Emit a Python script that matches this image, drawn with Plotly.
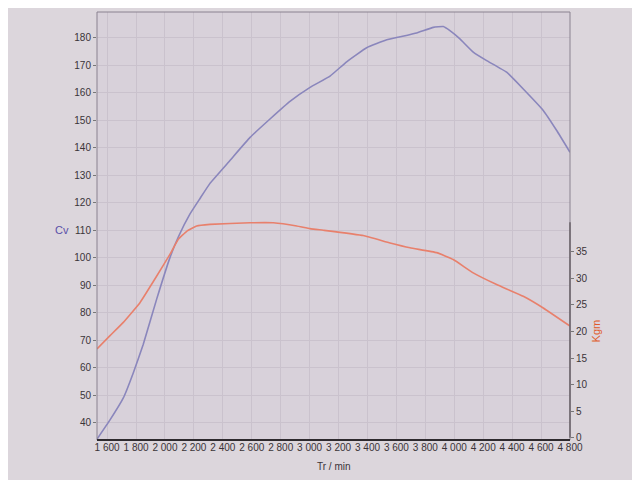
import plotly.graph_objects as go

# Power curve (Cv) vs engine speed
rpm_cv = [1530, 1620, 1712, 1780, 1850, 1943, 2035, 2092, 2173, 2242, 2311, 2449, 2588, 2726,
          2864, 3003, 3141, 3256, 3394, 3533, 3625, 3740, 3855, 3924, 3970, 4039,
          4131, 4224, 4362, 4477, 4615, 4708, 4800]
cv = [34.0, 41.0, 49.0, 58.0, 68.5, 85.0, 100.1, 107.5, 115.9, 121.5, 127.0, 135.3, 143.7, 150.4,
      156.8, 161.9, 166.0, 171.2, 176.3, 179.2, 180.3, 181.7, 183.7, 184.0, 182.5, 179.5,
      174.7, 171.6, 167.4, 161.3, 153.5, 146.2, 138.3]

# Torque curve (Kgm) vs engine speed
rpm_kgm = [1530, 1620, 1712, 1827, 1943, 2035, 2092, 2150, 2219, 2311, 2588, 2749, 2911,
           3003, 3094, 3371, 3556, 3694, 3878, 3993, 4131, 4293, 4477, 4615, 4800]
kgm = [16.7, 19.2, 21.7, 25.4, 30.4, 34.5, 37.3, 38.8, 39.8, 40.1, 40.4, 40.4, 39.8,
       39.3, 39.0, 38.0, 36.6, 35.7, 34.8, 33.5, 31.0, 28.8, 26.6, 24.4, 21.0]

x_ticks = list(range(1600, 4801, 200))
cv_ticks = list(range(40, 181, 10))
kgm_ticks = list(range(0, 36, 5))

fig = go.Figure()
fig.add_trace(go.Scatter(x=rpm_cv, y=cv, mode="lines", name="Cv",
                         line=dict(color="#8a86bc", width=1.6, shape="spline", smoothing=0.3)))
fig.add_trace(go.Scatter(x=rpm_kgm, y=kgm, mode="lines", name="Kgm", yaxis="y2",
                         line=dict(color="#e8806c", width=1.6, shape="spline", smoothing=0.3)))

tickfont = dict(family="Liberation Sans, Arial, sans-serif", size=10, color="#3a3438")

fig.update_layout(
    width=632, height=472,
    margin=dict(l=89, r=70, t=4, b=40),
    paper_bgcolor="#dcd6dc",
    plot_bgcolor="#d8d1da",
    showlegend=False,
    separators=". ",
    xaxis=dict(range=[1530, 4800], tickvals=x_ticks, tickformat=",d",
               tickfont=tickfont, showgrid=True, gridcolor="#cac2cd", gridwidth=1,
               zeroline=False, showline=False, ticks="", ticklen=0),
    yaxis=dict(range=[33.7, 189.3], tickvals=cv_ticks, tickfont=tickfont,
               showgrid=True, gridcolor="#cac2cd", zeroline=False, showline=False,
               ticks="outside", ticklen=3, tickcolor="#777"),
    yaxis2=dict(range=[-0.4, 80], tickvals=kgm_ticks, tickfont=tickfont,
                overlaying="y", side="right", showgrid=False, zeroline=False,
                showline=False, ticks="outside", ticklen=3, tickcolor="#777"),
    shapes=[
        dict(type="rect", xref="paper", yref="paper", x0=0, x1=1, y0=0, y1=1,
             line=dict(color="#8a8290", width=1)),
        dict(type="line", xref="paper", yref="paper", x0=0, x1=1, y0=0, y1=0,
             line=dict(color="#2e2a2e", width=2)),
        dict(type="line", xref="paper", yref="y2", x0=1, x1=1, y0=0, y1=40.5,
             line=dict(color="#6a6268", width=1.5)),
    ],
    annotations=[
        dict(text="Cv", xref="paper", yref="y", x=-0.074, y=110, showarrow=False,
             xanchor="center", yanchor="middle",
             font=dict(family="Liberation Sans, Arial, sans-serif", size=11, color="#5a50a8")),
        dict(text="Kgm", xref="paper", yref="y2", x=1.055, y=20, showarrow=False,
             textangle=-90, xanchor="center", yanchor="middle",
             font=dict(family="Liberation Sans, Arial, sans-serif", size=11, color="#e05a28")),
        dict(text="Tr / min", xref="paper", yref="paper", x=0.5, y=-0.063, showarrow=False,
             xanchor="center", yanchor="middle",
             font=dict(family="Liberation Sans, Arial, sans-serif", size=10, color="#3a3438")),
    ],
)

fig.write_html("out.html")
